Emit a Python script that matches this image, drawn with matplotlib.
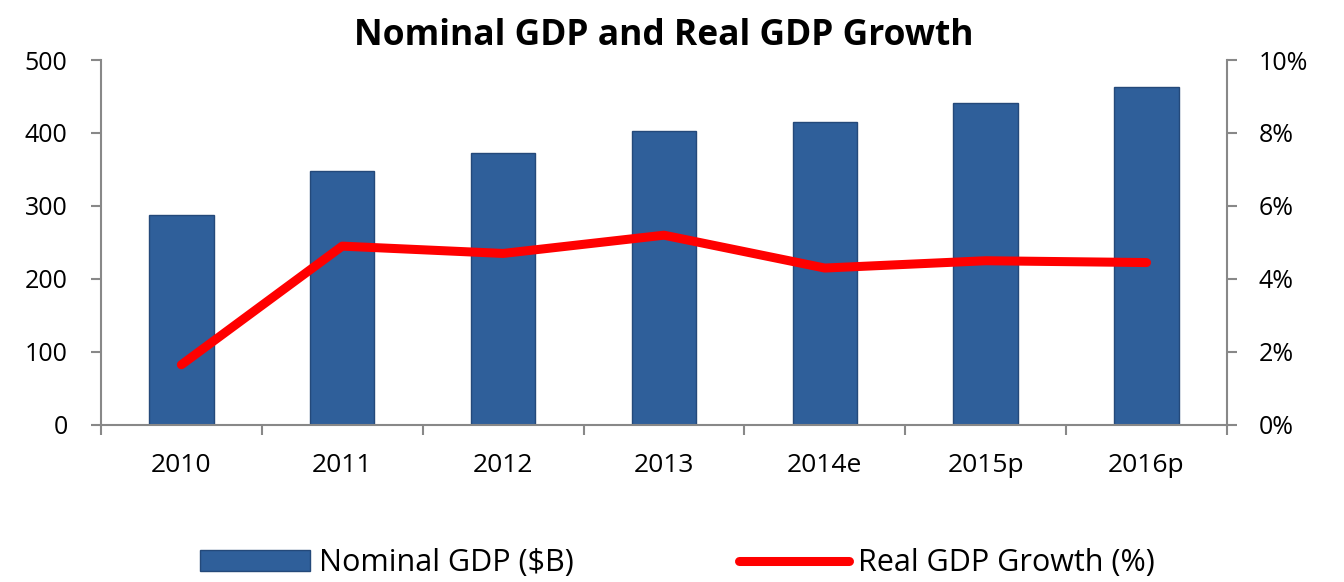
"""
Nominal GDP bars with real GDP growth line.
"""

import matplotlib

matplotlib.use("Agg")

import matplotlib.pyplot as plt
import numpy as np
from matplotlib.ticker import FuncFormatter

# =====================================================
# Data
# =====================================================

years = ["2010", "2011", "2012", "2013", "2014e", "2015p", "2016p"]

nominal_gdp = [287, 348, 373, 403, 415, 441, 463]

real_growth = [1.65, 4.9, 4.7, 5.2, 4.3, 4.5, 4.45]

# =====================================================
# Figure
# =====================================================

plt.rcParams["font.family"] = ["Open Sans", "DejaVu Sans"]

fig = plt.figure(figsize=(13.44, 5.82), dpi=100)

ax = fig.add_axes([0.0751, 0.2698, 0.8378, 0.6271])

x = np.arange(len(years))

bars = ax.bar(
    x,
    nominal_gdp,
    width=0.4,
    color="#2f5f9a",
    edgecolor="#24497a",
    linewidth=1.0,
    label="Nominal GDP ($B)",
    zorder=2,
)

ax.set_xlim(-0.5, len(years) - 0.5)
ax.set_ylim(0, 500)
ax.set_yticks(np.arange(0, 501, 100))

ax.set_xticks(x)
ax.set_xticklabels(years)
ax.set_xticks(np.arange(-0.5, len(years), 1.0), minor=True)
ax.tick_params(axis="x", which="major", length=0, pad=20, labelsize=19)
ax.tick_params(axis="x", which="minor", length=7, color="#888888", width=1.5)
ax.tick_params(axis="y", length=7, color="#888888", width=1.5, labelsize=18, pad=17)

for side in ["top", "right"]:
    ax.spines[side].set_visible(False)

for side in ["left", "bottom"]:
    ax.spines[side].set_color("#888888")
    ax.spines[side].set_linewidth(1.5)

# =====================================================
# Growth Line
# =====================================================

ax2 = ax.twinx()

(line,) = ax2.plot(
    x,
    real_growth,
    color="#ff0000",
    linewidth=6.5,
    solid_capstyle="round",
    solid_joinstyle="round",
    label="Real GDP Growth (%)",
    zorder=3,
)

ax2.set_ylim(0, 10)
ax2.set_yticks(np.arange(0, 11, 2))
ax2.yaxis.set_major_formatter(FuncFormatter(lambda v, _: f"{v:.0f}%"))
ax2.tick_params(axis="y", length=7, color="#888888", width=1.5, labelsize=18, pad=16)

for side in ["top", "left", "bottom"]:
    ax2.spines[side].set_visible(False)

ax2.spines["right"].set_color("#888888")
ax2.spines["right"].set_linewidth(1.5)

ax.set_title(
    "Nominal GDP and Real GDP Growth",
    fontsize=25.5,
    fontweight="bold",
    pad=11,
)

fig.legend(
    [bars, line],
    ["Nominal GDP ($B)", "Real GDP Growth (%)"],
    loc="center",
    bbox_to_anchor=(0.504, 0.032),
    ncol=2,
    frameon=False,
    fontsize=22,
    handlelength=3.6,
    handletextpad=0.3,
    columnspacing=5.4,
)

fig.savefig("out.png", dpi=100)
